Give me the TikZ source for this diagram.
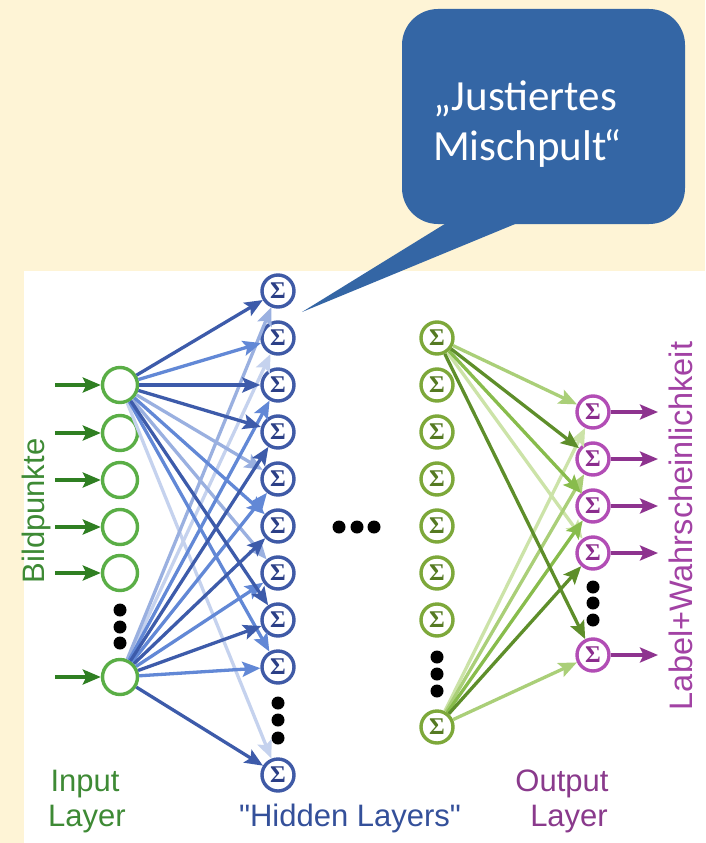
\documentclass[tikz,border=0pt]{standalone}
\usepackage{fontspec}
\setmainfont{Liberation Sans}[Ligatures=TeXOff]
\newfontfamily\calloutfamily{Carlito}
\newfontfamily\sigmafamily{Liberation Serif}
\usetikzlibrary{arrows.meta}

\definecolor{cream}{HTML}{FEF4D6}
\definecolor{bubble}{HTML}{3466A5}
\definecolor{inGreen}{HTML}{5AAE46}
\definecolor{inArrow}{HTML}{2F7F22}
\definecolor{hBlue}{HTML}{3F5AA6}
\definecolor{hBlueT}{HTML}{2B3F86}
\definecolor{bDark}{HTML}{3D5BAA}
\definecolor{bMid}{HTML}{6288D6}
\definecolor{bLight}{HTML}{9AB0E0}
\definecolor{bPale}{HTML}{C5D2EE}
\definecolor{gNode}{HTML}{7DA83A}
\definecolor{gNodeT}{HTML}{557A22}
\definecolor{gDark}{HTML}{5E8E2A}
\definecolor{gMid}{HTML}{88BC4C}
\definecolor{gLight}{HTML}{AACF78}
\definecolor{gPale}{HTML}{CCE3A8}
\definecolor{oNode}{HTML}{B24DB5}
\definecolor{oNodeT}{HTML}{8C2D8E}
\definecolor{oArrow}{HTML}{8E338F}
\definecolor{txtGreen}{HTML}{3E8A35}
\definecolor{txtBlue}{HTML}{34509A}
\definecolor{txtPurple}{HTML}{8A3A8C}
\definecolor{txtMagenta}{HTML}{A242A4}

\newcommand\sigmasize{\fontsize{24}{24}\selectfont}
\newcommand\labelsize{\fontsize{31}{35}\selectfont}
\newcommand\sidelabelsize{\fontsize{32.5}{35}\selectfont}
\newcommand\calloutsize{\fontsize{43}{50}\selectfont}

\tikzset{
  inpnode/.style={circle, draw=inGreen, line width=3.4pt, minimum size=35pt, inner sep=0pt},
  sumnode/.style={circle, line width=3.4pt, minimum size=32pt, inner sep=0pt,
                  font=\sigmafamily\bfseries\sigmasize},
  hidA/.style={sumnode, draw=hBlue, text=hBlueT},
  hidB/.style={sumnode, draw=gNode, text=gNodeT},
  outnode/.style={sumnode, draw=oNode, text=oNodeT},
  wire/.style={line width=3.3pt, -{Stealth[length=18pt,width=15pt,inset=3.5pt]}},
  bD/.style={color=bDark}, bM/.style={color=bMid},
  bL/.style={color=bLight}, bP/.style={color=bPale},
  gD/.style={color=gDark}, gM/.style={color=gMid},
  gL/.style={color=gLight}, gP/.style={color=gPale},
  feed/.style={wire, color=inArrow},
  emit/.style={wire, color=oArrow},
  lbl/.style={font=\labelsize, inner sep=0pt},
  dot/.style={fill=black}
}

\begin{document}
\begin{tikzpicture}[x=1pt, y=-1pt]
  % canvas and white panel
  \useasboundingbox (0,0) rectangle (705,843);
  \fill[cream] (0,0) rectangle (705,843);
  \fill[white] (24,271) rectangle (705,843);

  % input layer
  \foreach \i/\y in {1/385, 2/433, 3/480, 4/527, 5/573, 6/677} {
    \node[inpnode] (i\i) at (120,\y) {};
    \coordinate (ia\i) at (55,\y);
  }
  % first hidden layer
  \foreach \k in {1,...,9} {
    \node[hidA] (h\k) at (278,{291+47*(\k-1)}) {Σ};
  }
  \node[hidA] (h10) at (278,775) {Σ};
  % last hidden layer
  \foreach \k in {1,...,7} {
    \node[hidB] (g\k) at (437,{338+47*(\k-1)}) {Σ};
  }
  \node[hidB] (g8) at (437,727) {Σ};
  % output layer
  \foreach \k in {1,...,4} {
    \node[outnode] (o\k) at (593,{412+47*(\k-1)}) {Σ};
    \coordinate (oa\k) at (658,{412+47*(\k-1)});
  }
  \node[outnode] (o5) at (593,655) {Σ};
  \coordinate (oa5) at (658,655);

  % ellipsis dots
  \foreach \y in {610,627,643} \fill[dot] (120,\y) circle (6.5pt);
  \foreach \y in {703,720,738} \fill[dot] (278,\y) circle (6.5pt);
  \foreach \y in {657,674,691} \fill[dot] (437,\y) circle (6.5pt);
  \foreach \y in {587,603,620} \fill[dot] (593,\y) circle (6.5pt);
  \foreach \x in {339,357,374} \fill[dot] (\x,527) circle (6.5pt);

  % inputs
  \foreach \i in {1,...,6} \draw[feed] (ia\i) -- (i\i);

  % input -> first hidden layer (pale first, dark on top)
  \foreach \a/\b/\s in {i1/h10/bP, i6/h2/bP, i6/h1/bL, i1/h7/bL, i1/h5/bL,
                        i1/h2/bM, i1/h6/bM, i1/h9/bM, i6/h5/bM, i6/h7/bM, i6/h9/bM, i6/h3/bM,
                        i1/h1/bD, i1/h3/bD, i1/h4/bD, i1/h8/bD,
                        i6/h4/bD, i6/h6/bD, i6/h8/bD, i6/h10/bD}
    \draw[wire, \s] (\a) -- (\b);

  % last hidden -> output layer
  \foreach \a/\b/\s in {g1/o4/gP, g8/o1/gP, g1/o1/gL, g8/o2/gL, g8/o5/gL,
                        g1/o3/gM, g8/o3/gM,
                        g1/o2/gD, g1/o5/gD, g8/o4/gD}
    \draw[wire, \s] (\a) -- (\b);

  % outputs
  \foreach \k in {1,...,5} \draw[emit] (o\k) -- (oa\k);

  % labels
  \node[lbl, text=txtGreen, rotate=90] (lblin) at (36,511) {Bildpunkte};
  \node[lbl, font=\sidelabelsize, text=txtMagenta, rotate=90] (lblout) at (681,526) {Label+Wahrscheinlichkeit};
  \node[lbl, text=txtGreen, anchor=base] (inA) at (85,791) {Input};
  \node[lbl, text=txtGreen, anchor=base] (inB) at (87,826) {Layer};
  \node[lbl, text=txtBlue, anchor=base] (hidT) at (350,826) {"Hidden Layers"};
  \node[lbl, text=txtPurple, anchor=base] (outA) at (562,791) {Output};
  \node[lbl, text=txtPurple, anchor=base east] (outB) at (608,826) {Layer};

  % speech bubble
  \coordinate (tip) at (302,312);
  \coordinate (baseL) at (448,222);
  \coordinate (baseR) at (520,222);
  \node[fill=bubble, rounded corners=36pt, minimum width=283pt, minimum height=215pt,
        inner sep=0pt] (bubblebox) at (543.5,116.5) {};
  \fill[bubble] (baseL) -- (tip) -- (baseR) -- cycle;
  \node[font=\calloutfamily\calloutsize, text=white, anchor=base west, inner sep=0pt]
    (say1) at (433,110) {„Justiertes};
  \node[font=\calloutfamily\calloutsize, text=white, anchor=base west, inner sep=0pt]
    (say2) at (433,160) {Mischpult\kern-3pt“};
\end{tikzpicture}
\end{document}
